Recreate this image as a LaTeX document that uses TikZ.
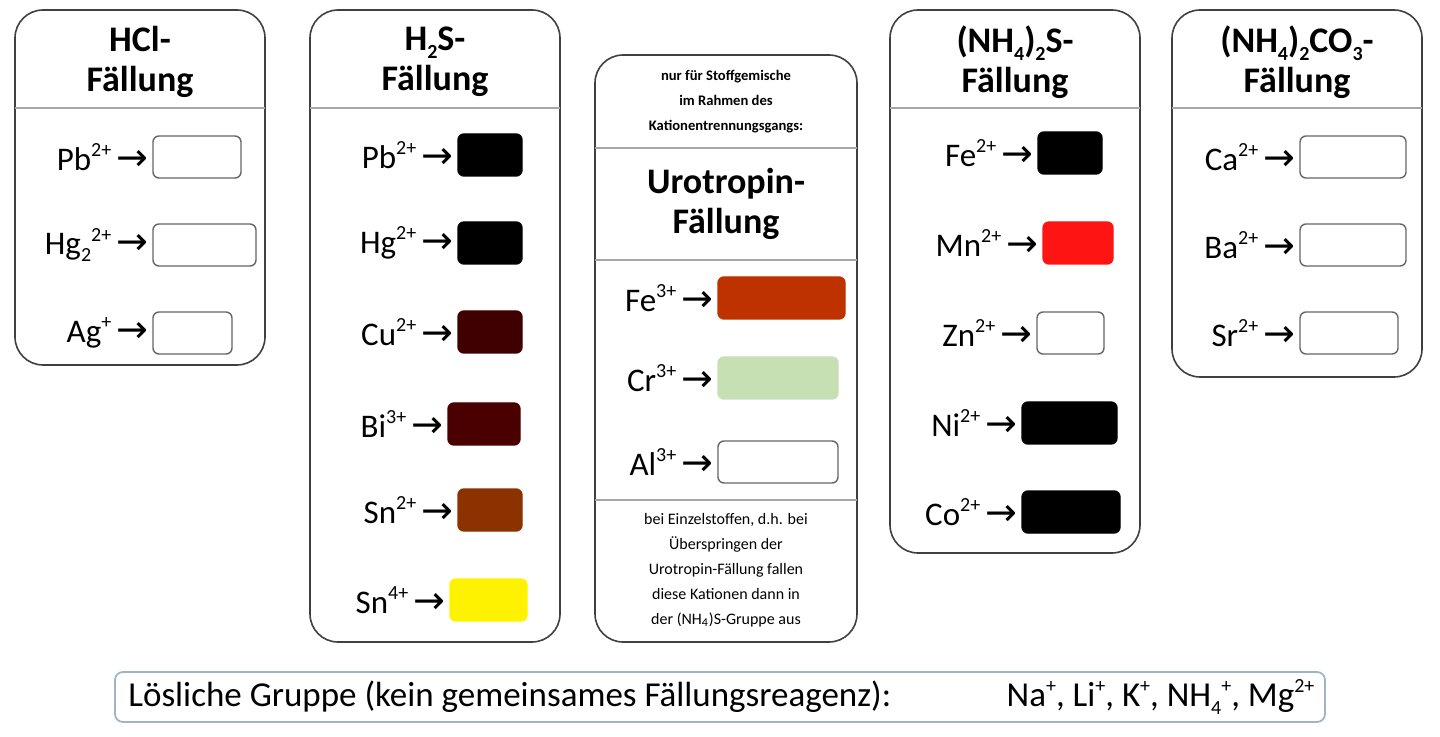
\documentclass[tikz,border=0pt]{standalone}
\usepackage{fontspec}
\setmainfont{Carlito}
\newfontfamily\arrfont{DejaVu Sans}
\newcommand\sps[1]{\raisebox{0.85ex}{\fontsize{10}{10}\selectfont #1}}
\newcommand\sbs[1]{\raisebox{-0.45ex}{\fontsize{10}{10}\selectfont #1}}
\begin{document}
\begin{tikzpicture}[x=0.5pt,y=-0.5pt,
  panel/.style={draw=black!75,line width=0.8pt,rounded corners=14pt},
  sep/.style={draw=black!35,line width=0.6pt},
  ttl/.style={font=\bfseries\fontsize{18}{20}\selectfont,align=center},
  lbl/.style={font=\fontsize{16.5}{18}\selectfont,anchor=east,inner sep=0pt},
  small/.style={font=\fontsize{8}{12.5}\selectfont,align=center},
  smallb/.style={font=\bfseries\fontsize{7.3}{12.5}\selectfont,align=center}]
\useasboundingbox (0,0) rectangle (1440,737);
\newcommand\ionrow[6]{% name, text, y, x1, x2, fill/draw
  \node[lbl] (l#1) at (#4-4,#3) {#2\,{\arrfont\fontsize{19}{19}\selectfont →}};
  \draw[rounded corners=3pt,line width=0.7pt,#6] (#4,#3-21) rectangle (#5,#3+21);
  \coordinate (b#1) at (#4,#3);}
% panel 1
\draw[panel] (15,10) rectangle (265,365);
\draw[sep] (15,108) -- (265,108);
\node[ttl] (t1) at (140,62) {HCl-\\Fällung};
\ionrow{a1}{Pb\sps{2+}}{157}{153}{241}{draw=black!60,fill=white}
\ionrow{a2}{Hg\sbs{2}\sps{2+}}{245}{153}{256}{draw=black!60,fill=white}
\ionrow{a3}{Ag\sps{+}}{333}{153}{232}{draw=black!60,fill=white}
% panel 2
\draw[panel] (310,10) rectangle (560,642);
\draw[sep] (310,108) -- (560,108);
\node[ttl] (t2) at (435,62) {H\sbs{2}S-\\Fällung};
\ionrow{b1}{Pb\sps{2+}}{155}{458}{522}{fill=black,draw=black}
\ionrow{b2}{Hg\sps{2+}}{243}{458}{522}{fill=black,draw=black}
\ionrow{b3}{Cu\sps{2+}}{332}{458}{522}{fill={rgb,255:red,62;green,0;blue,0},draw={rgb,255:red,62;green,0;blue,0}}
\ionrow{b4}{Bi\sps{3+}}{424}{448}{520}{fill={rgb,255:red,75;green,0;blue,0},draw={rgb,255:red,75;green,0;blue,0}}
\ionrow{b5}{Sn\sps{2+}}{510}{458}{522}{fill={rgb,255:red,140;green,50;blue,0},draw={rgb,255:red,140;green,50;blue,0}}
\ionrow{b6}{Sn\sps{4+}}{600}{450}{527}{fill=yellow,draw=yellow}
% panel 3
\draw[panel] (595,55) rectangle (857,642);
\draw[sep] (595,148) -- (857,148);
\draw[sep] (595,260) -- (857,260);
\draw[sep] (595,500) -- (857,500);
\node[smallb] (n3) at (726,102) {nur für Stoffgemische\\im Rahmen des\\Kationentrennungsgangs:};
\node[ttl] (t3) at (726,204) {Urotropin-\\Fällung};
\ionrow{c1}{Fe\sps{3+}}{298}{718}{845}{fill={rgb,255:red,190;green,50;blue,0},draw={rgb,255:red,190;green,50;blue,0}}
\ionrow{c2}{Cr\sps{3+}}{378}{718}{838}{fill={rgb,255:red,198;green,224;blue,180},draw={rgb,255:red,198;green,224;blue,180}}
\ionrow{c3}{Al\sps{3+}}{462}{718}{838}{draw=black!60,fill=white}
\node[small] (s3) at (726,570) {bei Einzelstoffen, d.h. bei\\Überspringen der\\Urotropin-Fällung fallen\\diese Kationen dann in\\der (NH\textsubscript{4})S-Gruppe aus};
% panel 4
\draw[panel] (890,10) rectangle (1140,553);
\draw[sep] (890,108) -- (1140,108);
\node[ttl] (t4) at (1015,62) {(NH\sbs{4})\sbs{2}S-\\Fällung};
\ionrow{d1}{Fe\sps{2+}}{153}{1038}{1102}{fill=black,draw=black}
\ionrow{d2}{Mn\sps{2+}}{243}{1043}{1113}{fill={rgb,255:red,255;green,20;blue,20},draw={rgb,255:red,255;green,20;blue,20}}
\ionrow{d3}{Zn\sps{2+}}{333}{1037}{1104}{draw=black!60,fill=white}
\ionrow{d4}{Ni\sps{2+}}{423}{1022}{1117}{fill=black,draw=black}
\ionrow{d5}{Co\sps{2+}}{512}{1022}{1120}{fill=black,draw=black}
% panel 5
\draw[panel] (1172,10) rectangle (1422,377);
\draw[sep] (1172,108) -- (1422,108);
\node[ttl] (t5) at (1297,62) {(NH\sbs{4})\sbs{2}CO\sbs{3}-\\Fällung};
\ionrow{e1}{Ca\sps{2+}}{157}{1300}{1406}{draw=black!60,fill=white}
\ionrow{e2}{Ba\sps{2+}}{245}{1300}{1406}{draw=black!60,fill=white}
\ionrow{e3}{Sr\sps{2+}}{333}{1300}{1398}{draw=black!60,fill=white}
% bottom
\draw[draw={rgb,255:red,160;green,180;blue,200},line width=0.9pt,rounded corners=4pt] (115,672) rectangle (1325,722);
\node[font=\fontsize{17.5}{19}\selectfont,anchor=west,inner sep=0pt] (lg) at (128,697) {Lösliche Gruppe (kein gemeinsames Fällungsreagenz):\hspace{3.3em}Na\sps{+}, Li\sps{+}, K\sps{+}, NH\sbs{4}\sps{+}, Mg\sps{2+}};
\end{tikzpicture}
\end{document}
